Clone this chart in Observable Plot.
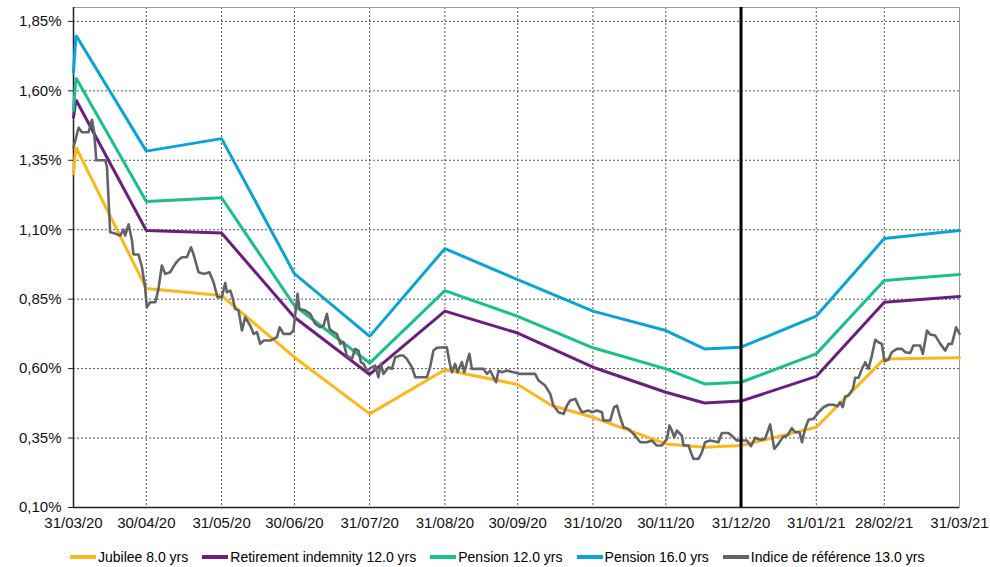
<!DOCTYPE html>
<html>
<head>
<meta charset="utf-8">
<script src="https://cdn.jsdelivr.net/npm/d3@7"></script>
<script src="https://cdn.jsdelivr.net/npm/@observablehq/plot@0.6"></script>
<style>
  body { margin: 0; background: #fff; font-family: "Liberation Sans", Arial, sans-serif; }
  #legend { display: flex; align-items: center; padding-left: 70px; margin-top: 14px; font-size: 14px; color: #000; height: 16px; }
  .item { display: flex; align-items: center; margin-right: 14px; }
  .sw { width: 26px; height: 4px; margin-right: 2px; }
</style>
</head>
<body>
<div id="chart"></div>
<div id="legend"></div>
<script>
// ---- data ----
const seriesNames = ["Jubilee 8.0 yrs", "Retirement indemnity 12.0 yrs", "Pension 12.0 yrs", "Pension 16.0 yrs", "Indice de référence 13.0 yrs"];
const seriesColors = ["#FDB71A", "#6A1F80", "#17C08C", "#0AA3D6", "#626366"];

const curveDates = ["2020-03-31","2020-04-01","2020-04-30","2020-05-31","2020-06-30","2020-07-31","2020-08-31","2020-09-30","2020-10-14","2020-10-31","2020-11-30","2020-12-16","2020-12-31","2021-01-31","2021-02-28","2021-03-31"];
const jubilee    = [1.302,1.397,0.888,0.863,0.641,0.437,0.596,0.543,0.467,0.425,0.329,0.317,0.323,0.389,0.635,0.639];
const retirement = [1.505,1.568,1.097,1.088,0.785,0.579,0.807,0.728,null,0.605,0.515,0.476,0.483,0.572,0.839,0.860];
const pension12  = [1.530,1.647,1.202,1.215,0.827,0.620,0.881,0.788,null,0.675,0.599,0.545,0.551,0.653,0.917,0.939];
const pension16  = [1.667,1.800,1.383,1.428,0.942,0.716,1.032,0.920,null,0.807,0.737,0.671,0.677,0.789,1.068,1.097];

// reference index: days after 31/03/20 and values (%)
const grayDay = [0,2.1,3.5,6.2,7.6,8.5,9.4,13.1,13.8,15.1,17.2,19.2,20.6,21.3,22.7,24.1,24.7,26.8,28.2,29.5,30.2,31.6,33.7,35.0,36.4,37.8,39.8,41.9,43.3,44.7,46.7,48.4,49.4,51.5,53.6,56.0,57.7,59.3,61.1,62.5,63.2,64.6,
65.3,66.6,68.0,69.4,70.7,72.8,74.2,75.6,76.9,78.3,81.0,83.8,84.9,86.5,89.3,90.6,92.3,93.1,95.5,97.5,99.6,101.6,103.0,104.4,105.5,107.1,108.5,109.9,111.2,112.6,114.7,116.0,117.4,118.4,119.5,120.9,122.9,124.3,125.6,
126.6,127.7,129.8,131.2,132.5,134.6,135.9,137.3,139.4,140.8,145.6,146.9,148.3,149.7,153.8,154.9,155.9,157.2,158.2,160.0,161.0,162.1,163.1,164.1,168.9,170.3,171.7,173.0,174.1,175.1,176.5,178.5,181.3,184.0,188.1,
190.2,191.6,194.3,196.4,197.7,199.8,201.9,203.3,204.6,206.7,208.0,209.4,212.2,213.6,215.6,217.7,218.3,221.1,222.7,223.9,225.2,226.6,228.6,230.7,233.5,236.2,238.3,240.3,242.4,244.5,245.5,246.5,247.5,248.6,250.6,251.3,253.4,254.3,255.4,257.5,258.9,260.2,262.3,265.7,
267.1,269.8,271.9,273.3,277.4,279.1,280.8,282.9,284.9,287.0,288.7,290.4,292.2,294.1,295.9,297.3,299.1,300.1,301.4,302.8,304.9,306.9,309.0,311.0,313.1,314.7,315.8,316.9,317.9,319.3,321.1,322.0,323.4,324.8,326.2,327.5,328.9,330.3,331.6,333.0,334.1,335.7,337.1,339.2,341.3,342.6,344.7,346.0,348.8,349.9,351.6,352.9,355.0,357.1,359.1,360.5,361.9,363.6,365];
const grayVal = [1.397,1.467,1.451,1.451,1.496,1.451,1.350,1.350,1.325,1.091,1.086,1.079,1.100,1.079,1.119,1.061,1.011,1.011,0.965,0.893,0.821,0.839,0.839,0.887,0.971,0.941,0.947,0.977,0.992,1.001,1.001,1.037,1.013,0.947,0.941,0.947,0.911,0.857,0.857,0.908,0.875,0.881,
0.863,0.815,0.809,0.737,0.785,0.755,0.725,0.731,0.689,0.701,0.701,0.713,0.749,0.725,0.725,0.737,0.869,0.815,0.809,0.797,0.761,0.749,0.755,0.797,0.743,0.731,0.725,0.689,0.695,0.647,0.635,0.671,0.665,0.623,0.617,0.593,0.605,0.611,0.569,
0.617,0.581,0.605,0.599,0.641,0.647,0.647,0.635,0.605,0.569,0.569,0.605,0.665,0.675,0.677,0.623,0.587,0.617,0.587,0.623,0.587,0.623,0.653,0.599,0.599,0.581,0.593,0.569,0.551,0.593,0.587,0.593,0.587,0.581,0.581,
0.581,0.557,0.539,0.509,0.467,0.443,0.437,0.467,0.485,0.491,0.467,0.443,0.449,0.443,0.449,0.443,0.413,0.413,0.461,0.467,0.425,0.389,0.383,0.365,0.335,0.335,0.341,0.323,0.323,0.347,0.395,0.377,0.353,0.377,0.359,0.323,0.323,0.299,0.275,0.275,0.299,0.335,0.341,0.335,
0.368,0.368,0.353,0.341,0.341,0.321,0.351,0.344,0.347,0.399,0.311,0.329,0.353,0.359,0.386,0.371,0.371,0.335,0.383,0.416,0.419,0.443,0.461,0.470,0.470,0.464,0.479,0.461,0.500,0.503,0.527,0.567,0.567,0.599,0.623,0.599,0.647,0.704,0.695,0.689,0.627,0.632,0.659,0.671,0.671,0.659,0.656,0.683,0.683,0.653,0.737,0.723,0.719,0.689,0.665,0.689,0.689,0.749,0.725];

const xTickDates = ["2020-03-31","2020-04-30","2020-05-31","2020-06-30","2020-07-31","2020-08-31","2020-09-30","2020-10-31","2020-11-30","2020-12-31","2021-01-31","2021-02-28","2021-03-31"];
const yTicks = [0.10,0.35,0.60,0.85,1.10,1.35,1.60,1.85];
const markerDate = "2020-12-31";

// ---- build ----
const parse = d3.utcParse("%Y-%m-%d");
const start = parse(xTickDates[0]);
const end = parse(xTickDates[xTickDates.length - 1]);
const xTicks = xTickDates.map(parse);

const curveSeries = [jubilee, retirement, pension12, pension16];
const curveRows = [];
curveSeries.forEach((vals, si) => {
  vals.forEach((v, i) => { if (v != null) curveRows.push({s: seriesNames[si], date: parse(curveDates[i]), v}); });
});
const grayRows = grayDay.map((d, i) => ({s: seriesNames[4], date: new Date(+start + d * 864e5), v: grayVal[i]}));

const colorScale = {domain: seriesNames, range: seriesColors};

const chart = Plot.plot({
  width: 990,
  height: 535,
  marginLeft: 73,
  marginRight: 31,
  marginTop: 7,
  marginBottom: 28,
  style: {fontFamily: "'Liberation Sans', Arial, sans-serif", fontSize: "15px", color: "#111", background: "#fff"},
  x: {type: "utc", domain: [start, end]},
  y: {domain: [0.10, 1.90]},
  color: colorScale,
  marks: [
    Plot.gridY(yTicks, {stroke: "#555", strokeOpacity: 1, strokeDasharray: "2,2"}),
    Plot.gridX(xTicks, {stroke: "#555", strokeOpacity: 1, strokeDasharray: "2,2"}),
    Plot.frame({stroke: "#999"}),
    Plot.axisY(yTicks, {tickFormat: d => d.toFixed(2).replace(".", ",") + "%", tickSize: 5, tickPadding: 7, label: null, fontSize: 15, stroke: "#222"}),
    Plot.axisX(xTicks, {tickFormat: d3.utcFormat("%d/%m/%y"), tickSize: 0, tickPadding: 10, label: null, fontSize: 15}),
    Plot.ruleX([start], {stroke: "#222", strokeWidth: 1.5}),
    Plot.ruleY([0.10], {stroke: "#222", strokeWidth: 1.5}),
    ...curveSeries.map((_, si) => Plot.line(curveRows.filter(r => r.s === seriesNames[si]), {x: "date", y: "v", stroke: "s", strokeWidth: 3, strokeLinejoin: "miter"})),
    Plot.line(grayRows, {x: "date", y: "v", stroke: "s", strokeWidth: 2.6}),
    Plot.ruleX([parse(markerDate)], {stroke: "#000", strokeWidth: 3})
  ]
});
document.getElementById("chart").appendChild(chart);

const legend = document.getElementById("legend");
seriesNames.forEach((n, i) => {
  const it = document.createElement("div");
  it.className = "item";
  const sw = document.createElement("span");
  sw.className = "sw";
  sw.style.background = seriesColors[i];
  const t = document.createElement("span");
  t.textContent = n;
  it.appendChild(sw); it.appendChild(t);
  legend.appendChild(it);
});
</script>
</body>
</html>
